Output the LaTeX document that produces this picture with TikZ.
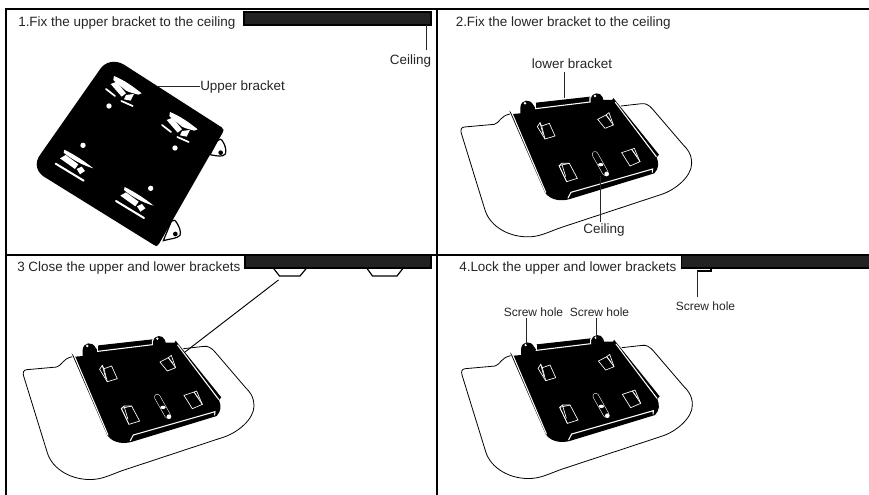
\documentclass[tikz,border=0pt]{standalone}
\usepackage{fontspec}
\setmainfont{Liberation Sans}
\definecolor{ceil}{HTML}{222222}
\tikzset{
  frameline/.style={line width=1.5pt,black},
  ceilbar/.style={fill=ceil,draw=black,line width=1.1pt},
  leader/.style={line width=.7pt,black!85},
  lbl/.style={inner sep=0pt,font=\fontsize{10.1pt}{12pt}\selectfont,text=black!85,anchor=center},
  title/.style={lbl,anchor=west},
  smalllbl/.style={inner sep=0pt,font=\fontsize{9pt}{11pt}\selectfont,text=black!85,anchor=center},
  wline/.style={draw=white,line width=.5pt},
  wthick/.style={draw=white,line width=.8pt,line cap=round},
  slotw/.style={fill=white,draw=none},
  eardraw/.style={line width=.9pt,black,fill=white},
}
\newcommand{\slotTop}{%
  \fill[slotw] (342,228) .. controls (372,240) and (400,260) .. (425,280) -- (415,284) .. controls (400,280) and (385,276) .. (378,272) .. controls (365,260) and (350,250) .. (340,240) -- cycle;
  \fill[slotw] (332,252) -- (350,245) -- (378,280) -- (365,290) -- cycle;
  \fill[slotw] (378,285) -- (402,282) -- (392,302) -- (372,298) -- cycle;
  \draw[wthick,line width=1.3pt] (318,267) -- (345,288);
  \draw[wthick,line width=1.3pt] (364,303) -- (398,318);
}
\newcommand{\slotBot}{%
  \fill[slotw] (193,449) .. controls (225,465) and (255,485) .. (280,505) .. controls (250,497) and (215,478) .. (191,458) -- cycle;
  \draw[wthick,line width=1.5pt] (167,491) -- (251,542);
  \fill[slotw] (180,475) -- (197,465) -- (235,493) -- (225,507) -- cycle;
  \fill[slotw] (230,507) -- (245,500) -- (255,513) -- (240,523) -- cycle;
}
\newcommand{\traybracket}{%
  \draw[line width=.6pt,black] (225,342) .. controls (195,348) and (195,368) .. (178,373) -- (88,381)
    .. controls (78,382) and (76,390) .. (79,400) -- (150,630)
    .. controls (165,680) and (225,715) .. (290,710) .. controls (320,708) and (350,692) .. (380,682)
    -- (680,583) .. controls (720,570) and (770,530) .. (770,490)
    .. controls (770,460) and (755,445) .. (745,435) -- (655,330)
    .. controls (640,312) and (630,310) .. (620,311) -- (558,318);
  % plate body
  \fill[black] (223,332) -- (232,342) -- (256,340) -- (256,322) .. controls (258,298) and (285,295) .. (295,315) -- (302,325)
    -- (303,308) -- (465,290) -- (468,296) .. controls (470,276) and (497,275) .. (503,292) -- (505,300)
    -- (532,300) -- (535,294) -- (672,464) -- (665,472) .. controls (672,490) and (672,505) .. (658,520)
    -- (405,597) .. controls (385,603) and (350,605) .. (330,578) -- cycle;
  % rails and lines
  \draw[wthick] (229,335) -- (332,577);
  \draw[wthick] (541,307) -- (664,470);
  \draw[wthick] (301,326) -- (465,306) -- (465,292);
  \draw[wthick] (301,326) -- (301,311);
  \draw[wthick] (399,594) -- (408,577) -- (653,507) -- (652,517);
  \fill[white] (270,310) circle (4);
  \fill[white] (480,288) circle (4);
  % slots
  \begin{scope}[wline]
    \draw (320,378) -- (343,370) -- (360,408) -- (330,417) -- cycle;
    \draw (320,378) -- (315,368) -- (307,380) -- (330,417);
    \draw (315,368) -- (325,405);
    \draw (488,358) -- (513,345) -- (535,375) -- (510,385) -- cycle;
    \draw (513,345) -- (522,338) -- (535,375);
    \draw (513,345) -- (527,362);
    \draw (372,497) -- (403,490) -- (427,535) -- (395,545) -- cycle;
    \draw (372,497) -- (380,490) -- (403,490);
    \draw (372,497) -- (395,545);
    \draw (380,490) -- (392,530);
    \draw (560,458) -- (590,448) -- (615,485) -- (585,498) -- cycle;
    \draw (590,448) -- (598,445) -- (615,485);
    \draw (590,448) -- (606,470);
  \end{scope}
  \draw[white,line width=4.6pt,line cap=round] (480,463) -- (511,518);
  \draw[black,line width=3.8pt,line cap=round] (480,463) -- (511,518);
  \fill[white] (497,494) ellipse (8 and 5);
  \fill[white] (515,522) circle (7);
}
\begin{document}
\begin{tikzpicture}[x=.75pt,y=-.75pt]
\useasboundingbox (0,0) rectangle (869,495);
\fill[white] (0,0) rectangle (869,495);
% frame
\draw[frameline] (6,495) -- (6,9) -- (869,9);
\draw[frameline] (437,9) -- (437,495);
\draw[frameline] (6,255) -- (869,255);

% panel 1
\node[title] (t1) at (18,23) {1.Fix the upper bracket to the ceiling};
\node[ceilbar,minimum width=187*.75pt,minimum height=13*.75pt,inner sep=0pt] (c1) at (337.5,18.5) {};
\node[lbl] (cl1) at (410.5,61) {Ceiling};
\coordinate (c1a) at (426.7,25);
\coordinate (c1b) at (426.7,50.5);
\draw[leader] (c1a) -- (c1b);
\begin{scope}[x=.25pt,y=-.25pt]
  \draw[eardraw] (652,422) .. controls (658,416) and (664,416) .. (668,424) .. controls (676,436) and (680,452) .. (676,462) .. controls (668,472) and (650,468) .. (630,464) -- cycle;
  \fill[black] (662,458) circle (7);
  \draw[eardraw] (514,664) .. controls (520,658) and (526,660) .. (530,668) .. controls (538,680) and (544,696) .. (540,706) .. controls (532,716) and (510,716) .. (490,722) -- cycle;
  \fill[black] (526,702) circle (7);
  \fill[black] (300,208) .. controls (315,185) and (345,178) .. (372,194) -- (665,382)
    .. controls (672,388) and (672,392) .. (668,398) -- (478,730) .. controls (474,738) and (470,740) .. (462,735)
    -- (140,535) .. controls (110,520) and (100,490) .. (122,462) -- cycle;
  \slotTop
  \begin{scope}[shift={(168,108)}]\slotTop\end{scope}
  \slotBot
  \begin{scope}[shift={(181,112)}]\slotBot\end{scope}
  \fill[white] (327,318) circle (8);
  \fill[white] (525,444) circle (8);
  \fill[white] (249,436) circle (8);
  \fill[white] (452,565) circle (8);
\end{scope}
\node[lbl,anchor=west] (ub) at (200,87.5) {Upper bracket};
\coordinate (ub0) at (156.5,86);
\draw[leader] (ub0) -- (ub.west |- ub0);

% panel 2
\node[title] (t2) at (455.5,23) {2.Fix the lower bracket to the ceiling};
\begin{scope}[shift={(435,0)},x=.25pt,y=-.25pt]
  \traybracket
\end{scope}
\node[lbl] (lb) at (572,64) {lower bracket};
\coordinate (lb0) at (564.5,98);
\coordinate (lb1) at (564.5,72.5);
\draw[leader] (lb1) -- (lb0);
\node[lbl] (cl2) at (604,230) {Ceiling};
\coordinate (cl20) at (600,176);
\coordinate (cl21) at (600,222.5);
\draw[leader] (cl20) -- (cl21);

% panel 3
\node[title] (t3) at (17,268.5) {3 Close the upper and lower brackets};
\draw[line width=.9pt,fill=white] (272.5,267) -- (279.5,276) -- (300,276) -- (307.5,267);
\draw[line width=.9pt,fill=white] (366,267) -- (372.5,276) -- (397,276) -- (404,267);
\node[ceilbar,minimum width=186*.75pt,minimum height=13*.75pt,inner sep=0pt] (c3) at (338,261.5) {};
\begin{scope}[shift={(-2.7,242.7)},x=.25pt,y=-.25pt]
  \traybracket
\end{scope}
\coordinate (c3a) at (278.5,280);
\coordinate (c3b) at (185,352);
\draw[line width=.7pt] (c3a) -- (c3b);

% panel 4
\node[title] (t4) at (459,268.5) {4.Lock the upper and lower brackets};
\node[ceilbar,minimum width=188*.75pt,minimum height=13*.75pt,inner sep=0pt] (c4) at (775.5,261.5) {};
\coordinate (c4a) at (711,268);
\coordinate (c4b) at (711,271);
\coordinate (c4c) at (697,271);
\draw[line width=1.2pt] (c4a) -- (c4b) -- (c4c);
\node[smalllbl] (s3) at (705.5,306) {Screw hole};
\coordinate (c4d) at (697,297.5);
\draw[leader] (c4c) -- (c4d);
\begin{scope}[shift={(435.7,241.7)},x=.25pt,y=-.25pt]
  \traybracket
\end{scope}
\node[smalllbl] (s1) at (533.5,312) {Screw hole};
\node[smalllbl] (s2) at (599.5,312) {Screw hole};
\coordinate (s1a) at (526.7,345);
\coordinate (s2a) at (596,338);
\coordinate (s1b) at (526.7,318.5);
\coordinate (s2b) at (596,318.5);
\draw[leader] (s1b) -- (s1a);
\draw[leader] (s2b) -- (s2a);
\end{tikzpicture}
\end{document}
